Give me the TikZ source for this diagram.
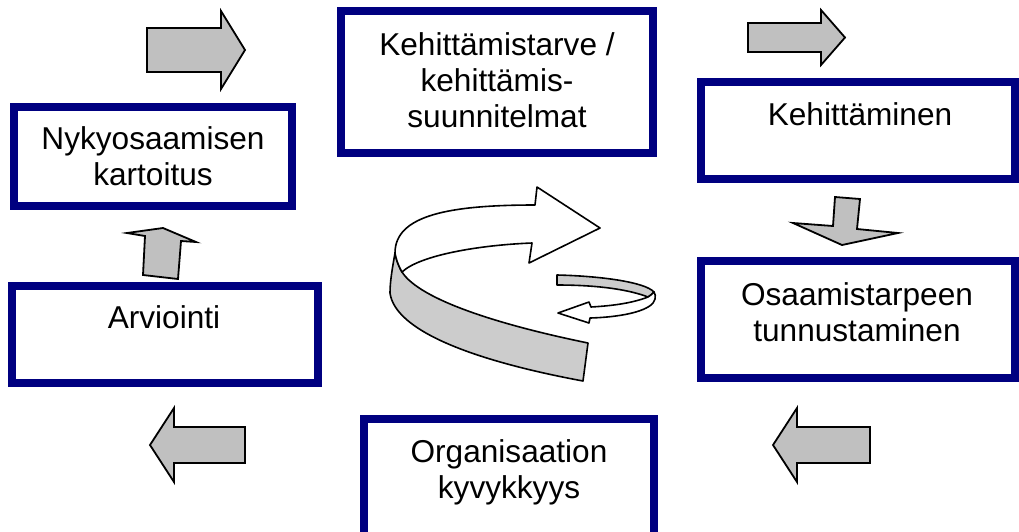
\documentclass[tikz,border=0pt]{standalone}
\usepackage{fontspec}
\setmainfont{Liberation Sans}
\definecolor{boxblue}{RGB}{0,0,128}
\definecolor{arrowgray}{RGB}{192,192,192}
\definecolor{ribbongray}{RGB}{204,204,204}
\begin{document}
\begin{tikzpicture}[x=1pt,y=-1pt,
  box/.style={draw=boxblue, line width=8pt, fill=white, inner sep=0pt},
  boxtext/.style={font=\fontsize{31.6}{36}\selectfont, align=center, anchor=base, inner sep=0pt},
  blockarrow/.style={draw=black, fill=arrowgray, line width=1.8pt, line join=miter},
  ribbon/.style={draw=black, line width=1.6pt, line join=round}]
\useasboundingbox (0,0) rectangle (1019,531);

% block arrows between the stages
\draw[blockarrow] (147,28) -- (221,28) -- (221,11) -- (245,50) -- (221,89) -- (221,72) -- (147,72) -- cycle;
\draw[blockarrow] (748,23) -- (821,23) -- (821,10) -- (845,37.5) -- (821,65) -- (821,52) -- (748,52) -- cycle;
\draw[blockarrow] (835,197) -- (860,199) -- (857,229) -- (898,233) -- (842,245) -- (793,223) -- (833,226) -- cycle;
\draw[blockarrow] (163,228) -- (196,242) -- (181,241) -- (178,279) -- (143,275) -- (145,236) -- (127,233) -- cycle;
\draw[blockarrow] (773,445) -- (797,408) -- (797,427) -- (870,427) -- (870,463) -- (797,463) -- (797,482) -- cycle;
\draw[blockarrow] (150,445) -- (174,408) -- (174,427) -- (245,427) -- (245,463) -- (174,463) -- (174,482) -- cycle;

% large curved ribbon arrow: shaded underside, then white top band with head
\draw[ribbon, fill=ribbongray] (395,253) .. controls (392,270) and (390,282) .. (390,293)
  .. controls (395,330) and (470,360) .. (583,381) -- (588,343)
  .. controls (500,325) and (420,300) .. (402,272)
  .. controls (398,265) and (396,259) .. (395,253) -- cycle;
\draw[ribbon, fill=white] (395,253) .. controls (395,215) and (450,205) .. (535,205)
  -- (537,187) -- (600,228) -- (529,263) -- (532,243)
  .. controls (480,245) and (420,255) .. (402,272)
  .. controls (398,265) and (396,259) .. (395,253) -- cycle;

% small returning ribbon arrow
\draw[ribbon, fill=ribbongray] (557,275) .. controls (600,276) and (645,282) .. (654,292)
  .. controls (652,294) and (650,296) .. (648,297)
  .. controls (630,290) and (600,285) .. (557,285) -- cycle;
\draw[ribbon, fill=white] (648,297) .. controls (630,304) and (608,306) .. (591,307)
  -- (589,302) -- (558,313) -- (589,323) -- (590,318)
  .. controls (625,317) and (653,310) .. (655,299)
  .. controls (656,296) and (655,294) .. (654,292)
  .. controls (652,294) and (650,296) .. (648,297) -- cycle;

% stage boxes
\node[box, minimum width=278pt, minimum height=99pt]  (nyky)  at (153,156.5) {};
\node[box, minimum width=312pt, minimum height=142pt] (tarve) at (497,82) {};
\node[box, minimum width=314pt, minimum height=97pt]  (kehit) at (858,130.5) {};
\node[box, minimum width=314pt, minimum height=117pt] (osaam) at (858,319.5) {};
\node[box, minimum width=306pt, minimum height=97pt]  (arvi)  at (165,334.5) {};
\node[box, minimum width=290pt, minimum height=117pt] (org)   at (509,477.5) {};

% box texts, placed by the baseline of their last line
\node[boxtext] (tnyky)  at (153,185) {Nykyosaamisen\\kartoitus};
\node[boxtext] (ttarve) at (497,127) {Kehittämistarve /\\kehittämis-\\suunnitelmat};
\node[boxtext] (tkehit) at (860,125) {Kehittäminen};
\node[boxtext] (tosaam) at (857,341) {Osaamistarpeen\\tunnustaminen};
\node[boxtext] (tarvi)  at (164,328) {Arviointi};
\node[boxtext] (torg)   at (509,498) {Organisaation\\kyvykkyys};
\end{tikzpicture}
\end{document}
